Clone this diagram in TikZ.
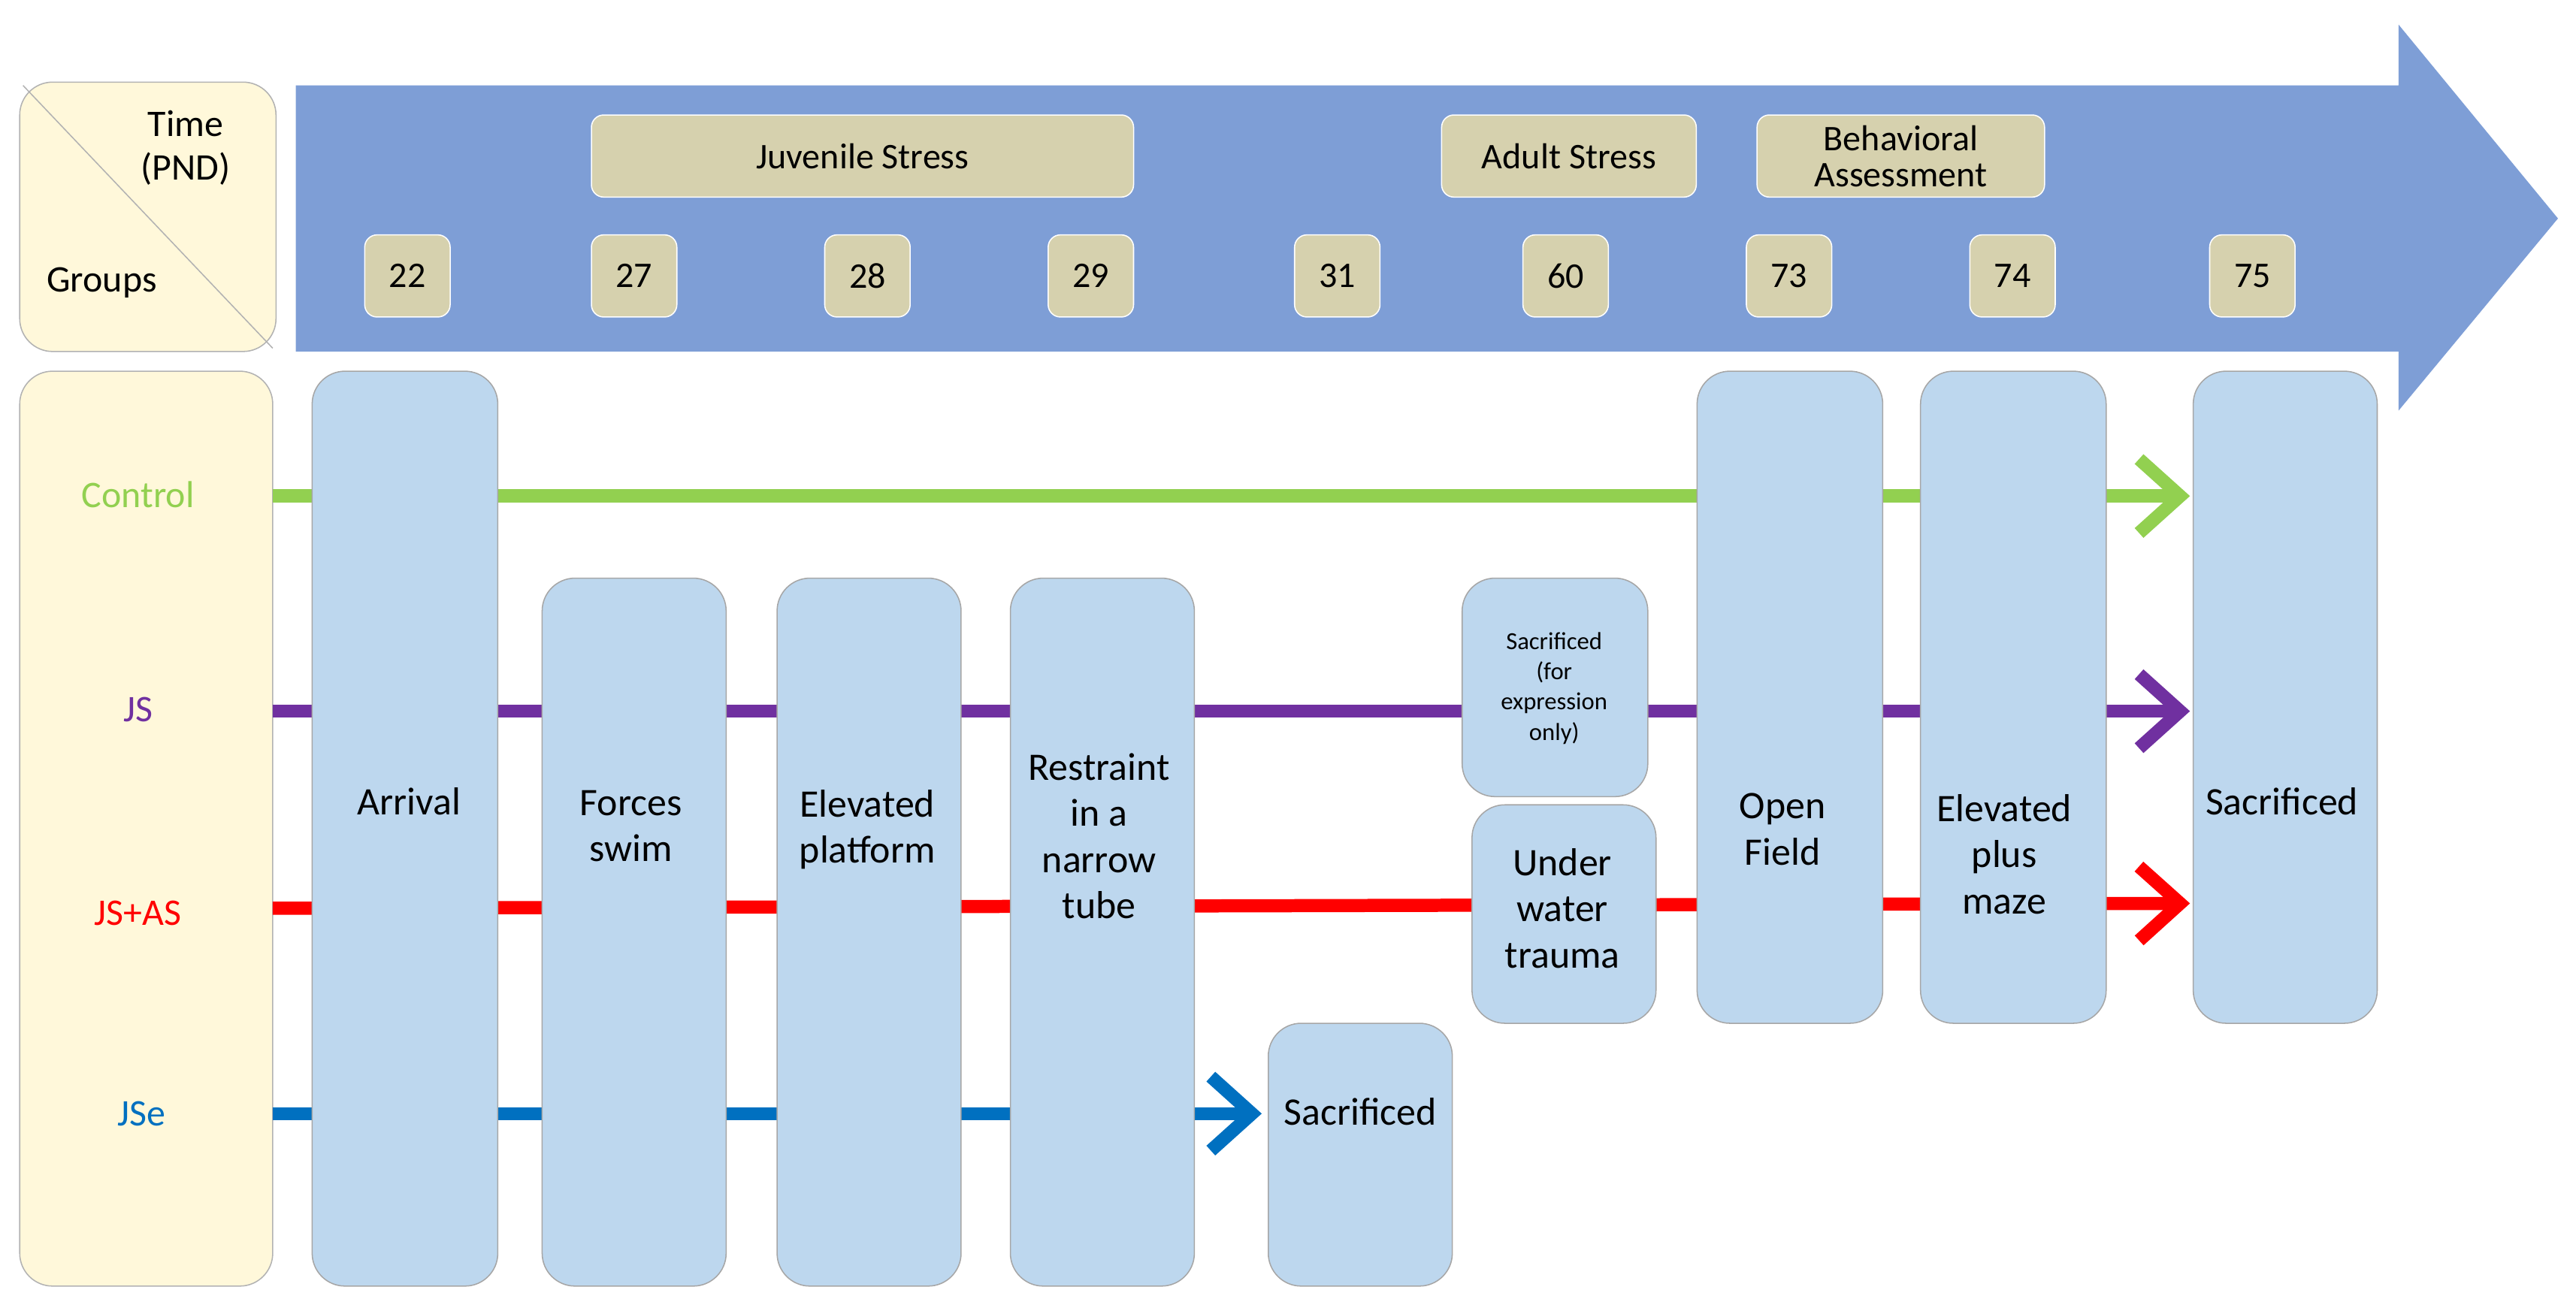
\documentclass[tikz,border=0pt]{standalone}
\usepackage{fontspec}
\setmainfont{Carlito}
\usetikzlibrary{positioning,arrows.meta,calc}
\definecolor{cream}{HTML}{FFF8DA}
\definecolor{bluebar}{HTML}{7E9ED6}
\definecolor{tan}{HTML}{D6D1AE}
\definecolor{boxblue}{HTML}{BDD7EE}
\definecolor{cgreen}{HTML}{92D050}
\definecolor{cpurple}{HTML}{7030A0}
\definecolor{cred}{HTML}{FF0000}
\definecolor{cblue}{HTML}{0070C0}
\tikzset{
  blk/.style 2 args={draw=gray!70, fill=boxblue, rounded corners=4mm,
    minimum width=#1*0.2mm, minimum height=#2*0.2mm},
  lbl/.style={align=center, font=\fontsize{13.5}{16}\selectfont},
  day/.style={draw=white, fill=tan, rounded corners=1.5mm, minimum width=10.4mm,
    minimum height=10mm, font=\fontsize{12.5}{14}\selectfont},
  phase/.style={draw=white, fill=tan, rounded corners=1.5mm, minimum height=10mm,
    align=center, font=\fontsize{12.5}{12.5}\selectfont},
  grp/.style={font=\fontsize{13}{15}\selectfont},
  flow/.style={line width=1.6mm, -{Straight Barb[length=5mm,width=9mm,line width=1.6mm]}}
}
\begin{document}
\begin{tikzpicture}[x=0.2mm,y=-0.2mm]
\useasboundingbox (0,0) rectangle (1568,798);
% header
\draw[gray!60, fill=cream, rounded corners=4mm] (12,50) rectangle (168,214);
\draw[gray!60] (14,52) -- (166,212);
\node[grp, align=center] (time) at (113,90) {Time\\(PND)};
\node[grp] (groups) at (62,172) {Groups};
% big arrow
\fill[bluebar] (180,52) -- (1460,52) -- (1460,15) -- (1557,133) -- (1460,250) -- (1460,214) -- (180,214) -- cycle;
\node[phase, minimum width=66mm] (juv) at (525,95) {Juvenile Stress};
\node[phase, minimum width=31mm] (adult) at (955,95) {Adult Stress};
\node[phase, minimum width=35mm] (behav) at (1157,95) {Behavioral\\Assessment};
\foreach \d/\x in {22/248,27/386,28/528,29/664,31/814,60/953,73/1089,74/1225,75/1371}
  \node[day] (d\d) at (\x,168) {\d};
% groups column
\draw[gray!60, fill=cream, rounded corners=4mm] (12,226) rectangle (166,783);
\node[grp, text=cgreen] (ctrl) at (84,301) {Control};
\node[grp, text=cpurple] (js) at (84,432) {JS};
\node[grp, text=cred] (jsas) at (84,556) {JS+AS};
\node[grp, text=cblue] (jse) at (86,678) {JSe};
\coordinate (c0) at (166,302);
\coordinate (j0) at (166,433);
\coordinate (r0) at (166,553);
\coordinate (b0) at (166,678);
% lines
\draw[flow, cgreen] (c0) -- (1333,302) coordinate (c1);
\draw[flow, cpurple] (j0) -- (1333,433) coordinate (j1);
\draw[flow, cred] (r0) -- (1333,550) coordinate (r1);
\draw[flow, cblue] (b0) -- (768,678) coordinate (b1);
% boxes
\node[blk={113}{557}] (arr) at (246.5,504.5) {};
\node[blk={112}{431}] (swim) at (386,567.5) {};
\node[blk={112}{431}] (plat) at (529,567.5) {};
\node[blk={112}{431}] (tube) at (671,567.5) {};
\node[blk={112}{160}] (sac1) at (828,703) {};
\node[blk={113}{133}] (sac2) at (946.5,418.5) {};
\node[blk={112}{133}] (uwt) at (952,556.5) {};
\node[blk={113}{397}] (open) at (1089.5,424.5) {};
\node[blk={113}{397}] (epm) at (1225.5,424.5) {};
\node[blk={112}{397}] (sac3) at (1391,424.5) {};
% box texts
\node[lbl] (arrT) at (249,488) {Arrival};
\node[lbl] (swimT) at (384,503) {Forces\\swim};
\node[lbl] (platT) at (528,505) {Elevated\\platform};
\node[lbl] (tubeT) at (669,509) {Restraint\\in a\\narrow\\tube};
\node[lbl] (sac1T) at (828,677) {Sacrificed};
\node[align=center, font=\fontsize{8.5}{10.5}\selectfont] (sac2T) at (946,419) {Sacrificed\\(for\\expression\\only)};
\node[lbl] (uwtT) at (951,553) {Under\\water\\trauma};
\node[lbl] (openT) at (1085,505) {Open\\Field};
\node[lbl] (epmT) at (1220,520) {Elevated\\plus\\maze};
\node[lbl] (sac3T) at (1389,488) {Sacrificed};
\end{tikzpicture}
\end{document}
